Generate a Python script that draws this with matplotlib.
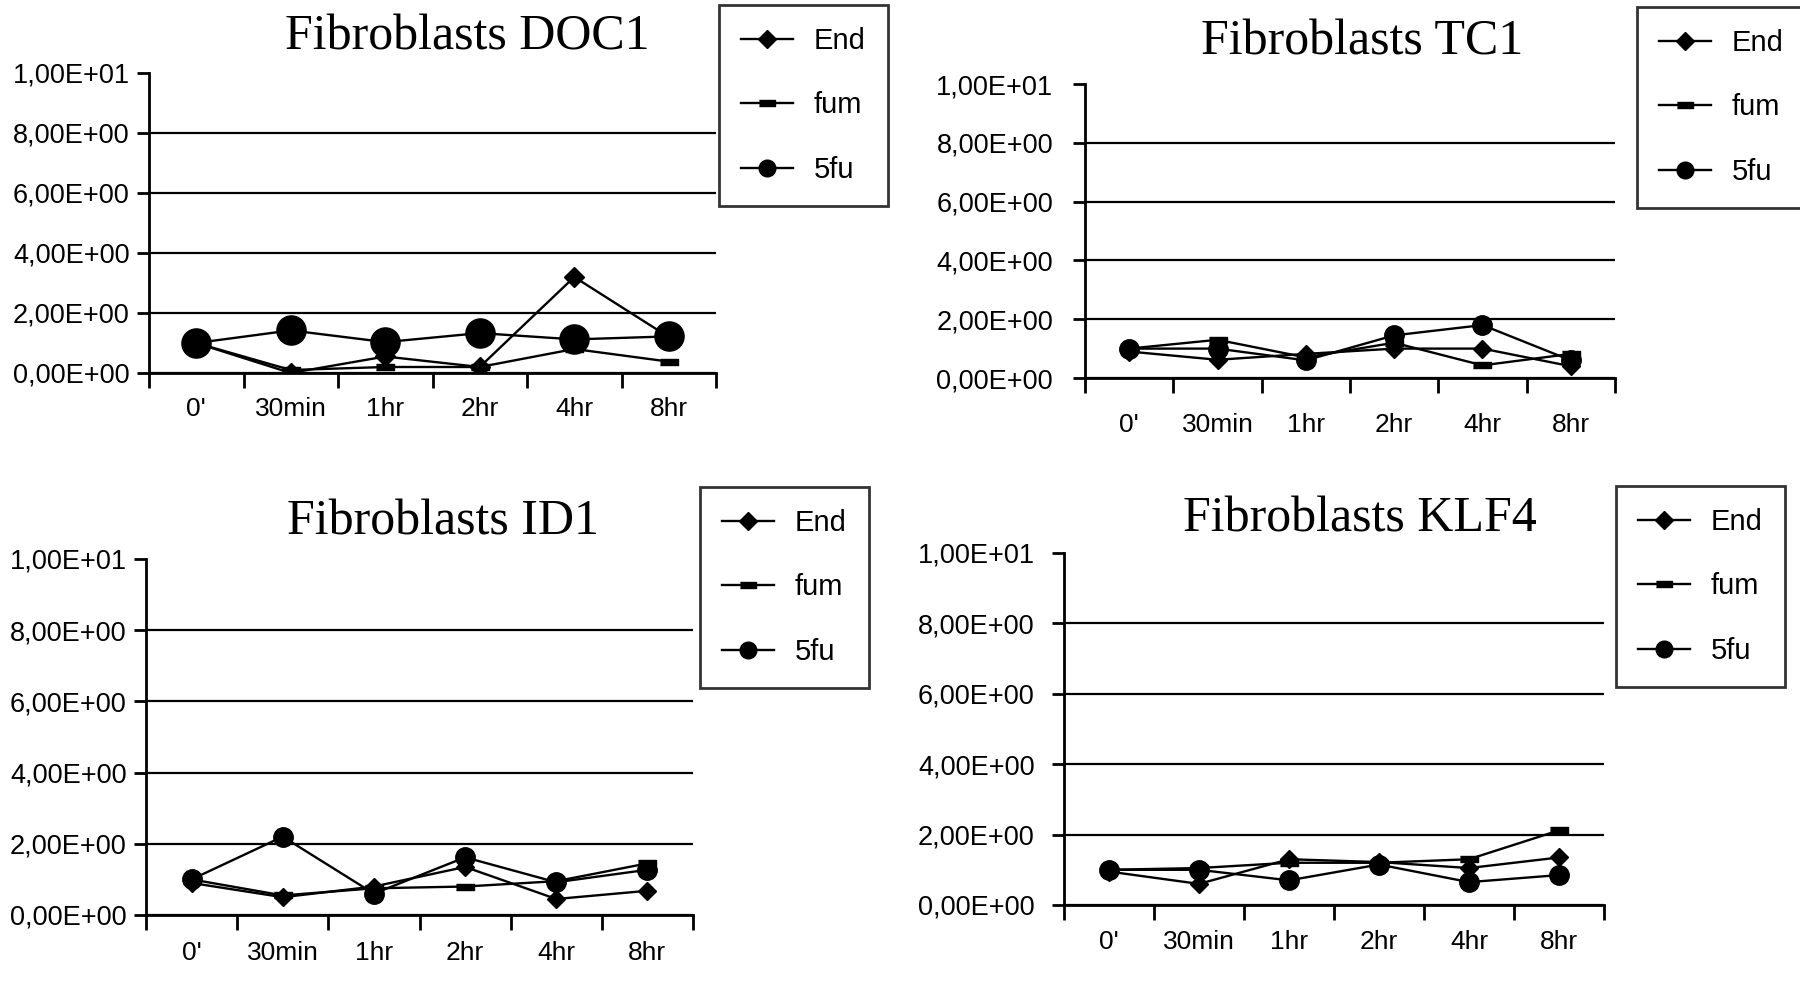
import matplotlib
matplotlib.use("Agg")
import matplotlib.pyplot as plt
from matplotlib.ticker import FuncFormatter, FixedLocator

# ---- data ------------------------------------------------------------------
times = ["0'", "30min", "1hr", "2hr", "4hr", "8hr"]
series_names = ["End", "fum", "5fu"]

doc1_end = [1.0, 0.0, 0.55, 0.2, 3.2, 1.2]
doc1_fum = [1.0, 0.1, 0.2, 0.2, 0.8, 0.38]
doc1_5fu = [1.0, 1.42, 1.03, 1.33, 1.12, 1.22]

tc1_end = [0.9, 0.62, 0.82, 1.0, 1.0, 0.4]
tc1_fum = [1.0, 1.3, 0.7, 1.2, 0.43, 0.82]
tc1_5fu = [1.0, 1.0, 0.6, 1.45, 1.8, 0.6]

id1_end = [0.9, 0.5, 0.8, 1.35, 0.45, 0.68]
id1_fum = [1.0, 0.55, 0.75, 0.8, 0.95, 1.45]
id1_5fu = [1.0, 2.2, 0.6, 1.62, 0.92, 1.27]

klf4_end = [0.95, 0.6, 1.3, 1.22, 1.05, 1.35]
klf4_fum = [1.0, 1.05, 1.2, 1.2, 1.3, 2.12]
klf4_5fu = [1.0, 1.0, 0.7, 1.15, 0.65, 0.85]

titles = ["Fibroblasts DOC1", "Fibroblasts TC1", "Fibroblasts ID1", "Fibroblasts KLF4"]
panels = [
    (doc1_end, doc1_fum, doc1_5fu),
    (tc1_end, tc1_fum, tc1_5fu),
    (id1_end, id1_fum, id1_5fu),
    (klf4_end, klf4_fum, klf4_5fu),
]

# ---- layout (pixels in the 1800x983 reference) -----------------------------
W, H = 1800, 983
# left, right, y at 10, y at 0
axes_px = [
    (149, 716, 73, 373),
    (1085, 1615, 84, 378),
    (146, 693, 559, 915),
    (1064, 1604, 553, 905),
]
title_px = [(467, 37), (1362, 42), (443, 522), (1360, 519)]
# legend upper-left corners
legend_px = [(719, 5), (1637, 7), (700, 487), (1616, 486)]
xlabel_pad = [17, 25, 19, 18]
ylabel_pad = [5, 14, 5, 12]
circle_size = [21, 14, 14, 14]
diamond_size = [13, 12, 12, 12]
legend_marker_size = [9, 12, 12]

tick_font = ["Liberation Sans", "DejaVu Sans"]
bar_marker = [(-1, -0.35), (1, -0.35), (1, 0.35), (-1, 0.35)]

fig = plt.figure(figsize=(W / 100, H / 100), dpi=100)


def sci_comma(v, pos):
    return f"{v:.2E}".replace(".", ",")


for k in range(4):
    l, r, ytop, ybot = axes_px[k]
    ax = fig.add_axes([l / W, 1 - ybot / H, (r - l) / W, (ybot - ytop) / H])
    xs = [i + 0.5 for i in range(len(times))]
    end, fum, fu5 = panels[k]

    ax.plot(xs, end, color="black", lw=1.7, marker="D",
            ms=diamond_size[k] * 0.75, label=series_names[0], zorder=3)
    ax.plot(xs, fum, color="black", lw=1.7, marker=bar_marker,
            ms=13, label=series_names[1], zorder=3)
    ax.plot(xs, fu5, color="black", lw=1.7, marker="o",
            ms=circle_size[k], label=series_names[2], zorder=3)

    ax.set_xlim(0, 6)
    ax.set_ylim(0, 10)

    # x: ticks between categories, labels at centers
    ax.xaxis.set_major_locator(FixedLocator(range(7)))
    ax.xaxis.set_minor_locator(FixedLocator(xs))
    ax.set_xticklabels([])
    ax.set_xticklabels(times, minor=True, family=tick_font, fontsize=19)
    ax.tick_params(axis="x", which="major", direction="out", length=11,
                   width=2, color="black")
    ax.tick_params(axis="x", which="minor", length=0, pad=xlabel_pad[k])

    # y
    ax.yaxis.set_major_locator(FixedLocator([0, 2, 4, 6, 8, 10]))
    ax.yaxis.set_major_formatter(FuncFormatter(sci_comma))
    for t in ax.get_yticklabels():
        t.set_family(tick_font)
        t.set_fontsize(19.5)
    ax.tick_params(axis="y", direction="out", length=9, width=2, pad=ylabel_pad[k])
    ax.yaxis.grid(True, color="black", lw=1.6)
    ax.get_ygridlines()[-1].set_visible(False)

    for s in ["top", "right"]:
        ax.spines[s].set_visible(False)
    for s in ["left", "bottom"]:
        ax.spines[s].set_linewidth(2)
        ax.spines[s].set_color("black")
    ax.set_facecolor("none")

    tx, ty = title_px[k]
    fig.text(tx / W, 1 - ty / H, titles[k], ha="center", va="center",
             family=["Liberation Serif", "DejaVu Serif"], fontsize=36)

    lx, ly = legend_px[k]
    leg = ax.legend(loc="upper left", bbox_to_anchor=(lx / W, 1 - ly / H),
                    bbox_transform=fig.transFigure, frameon=True,
                    fancybox=False, prop={"family": ["Liberation Sans", "DejaVu Sans"], "size": 21},
                    handlelength=1.8, handletextpad=0.7, labelspacing=1.25,
                    borderpad=0.75, borderaxespad=0)
    for h, ms in zip(leg.legend_handles, legend_marker_size):
        h.set_markersize(ms)
    leg.get_frame().set_edgecolor("black")
    leg.get_frame().set_linewidth(2)

fig.savefig("out.png", dpi=100, facecolor="white")
